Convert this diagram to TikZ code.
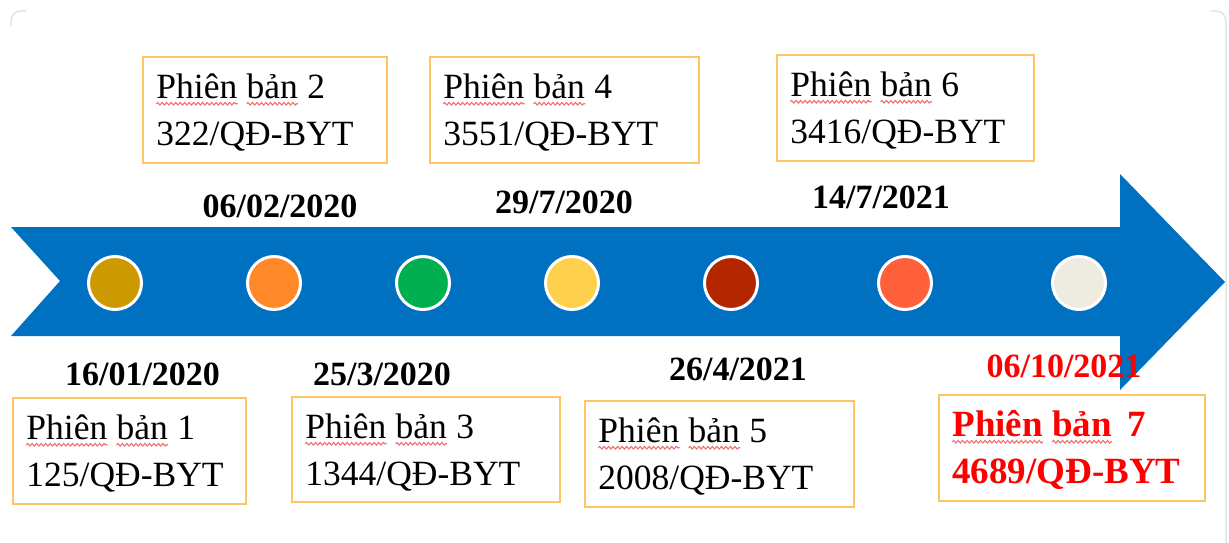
\documentclass[tikz,border=0pt]{standalone}
\usepackage{fontspec}
\setmainfont{Liberation Serif}
\usetikzlibrary{calc,decorations.pathmorphing}

\definecolor{flowblue}{HTML}{0070C0}
\definecolor{boxedge}{HTML}{FFC466}
\definecolor{wavered}{HTML}{F07070}
\definecolor{cardgray}{HTML}{E4E4E4}
\definecolor{dotA}{HTML}{CC9900}
\definecolor{dotB}{HTML}{FF8829}
\definecolor{dotC}{HTML}{00B050}
\definecolor{dotD}{HTML}{FFD04B}
\definecolor{dotE}{HTML}{B22600}
\definecolor{dotF}{HTML}{FF6039}
\definecolor{dotG}{HTML}{EEECE1}

\tikzset{
  vbox/.style={draw=boxedge, line width=1.5pt, fill=white, inner sep=0pt},
  plainword/.style={inner sep=0pt, anchor=base west, font=\fontsize{35.5}{42}\selectfont},
  redword/.style={inner sep=0pt, anchor=base west, text=red, font=\fontsize{37}{42}\selectfont\bfseries},
  datelbl/.style={inner sep=0pt, anchor=base, font=\fontsize{34}{40}\selectfont\bfseries},
  dot/.style={circle, draw=white, line width=3pt, minimum size=53pt, inner sep=0pt},
  spellwave/.style={draw=wavered, line width=1.1pt, decorate,
    decoration={snake, amplitude=1.3pt, segment length=4.5pt}},
}

% #1 name, #2 left, #3 top, #4 right, #5 bottom, #6 version number,
% #7 decision code, #8 text style, #9 gap before the number
\newcommand\versionbox[9]{%
  \node[vbox, minimum width={#4-#2}, minimum height={#5-#3}] (#1) at ({(#2+#4)/2},{(#3+#5)/2}) {};
  \node[#8] (#1p) at ($(#1.north west)+(14,42)$) {Phiên};
  \node[#8] (#1b) at ($(#1p.base east)+(9,0)$) {bản};
  \node[#8] (#1n) at ($(#1b.base east)+(#9,0)$) {#6};
  \node[#8] (#1c) at ($(#1.north west)+(14,89)$) {#7};
  \draw[spellwave] ($(#1p.base west)+(0,5.5)$) -- ($(#1p.base east)+(0,5.5)$);
  \draw[spellwave] ($(#1b.base west)+(0,5.5)$) -- ($(#1b.base east)+(0,5.5)$);
}

\begin{document}
\begin{tikzpicture}[x=1pt, y=-1pt]
  \useasboundingbox (0,0) rectangle (1229,543);
  \fill[white] (0,0) rectangle (1229,543);

  % faint card outline
  \draw[cardgray, line width=1.5pt, rounded corners=10pt] (11,26) |- (26,11);
  \draw[cardgray, line width=1.5pt, rounded corners=10pt] (1211,11) -| (1226,543);

  % timeline arrow
  \fill[flowblue] (11,227) -- (1120,227) -- (1120,174) -- (1225,282)
    -- (1120,390) -- (1120,336) -- (11,336) -- (60,281) -- cycle;

  % milestone dots
  \node[dot, fill=dotA] (c1) at (115,283) {};
  \node[dot, fill=dotB] (c2) at (274,283) {};
  \node[dot, fill=dotC] (c3) at (423,283) {};
  \node[dot, fill=dotD] (c4) at (572,283) {};
  \node[dot, fill=dotE] (c5) at (731,283) {};
  \node[dot, fill=dotF] (c6) at (905,283) {};
  \node[dot, fill=dotG] (c7) at (1079,283) {};

  % dates
  \node[datelbl] (d1) at (142.5,385) {16/01/2020};
  \node[datelbl] (d2) at (280,217) {06/02/2020};
  \node[datelbl] (d3) at (382,385) {25/3/2020};
  \node[datelbl] (d4) at (564,213) {29/7/2020};
  \node[datelbl] (d5) at (738,380) {26/4/2021};
  \node[datelbl] (d6) at (881,208) {14/7/2021};
  \node[datelbl, text=red] (d7) at (1064,377) {06/10/2021};

  % version boxes
  \versionbox{v1}{13}{398}{246}{504}{1}{125/QĐ-BYT}{plainword}{8.9}
  \versionbox{v2}{143}{57}{387}{163}{2}{322/QĐ-BYT}{plainword}{8.9}
  \versionbox{v3}{292}{397}{560}{502}{3}{1344/QĐ-BYT}{plainword}{8.9}
  \versionbox{v4}{430}{57}{699}{163}{4}{3551/QĐ-BYT}{plainword}{8.9}
  \versionbox{v5}{585}{401}{854}{507}{5}{2008/QĐ-BYT}{plainword}{8.9}
  \versionbox{v6}{777}{55}{1034}{161}{6}{3416/QĐ-BYT}{plainword}{8.9}
  \versionbox{v7}{939}{395}{1205}{501}{7}{4689/QĐ-BYT}{redword}{15}
\end{tikzpicture}
\end{document}
